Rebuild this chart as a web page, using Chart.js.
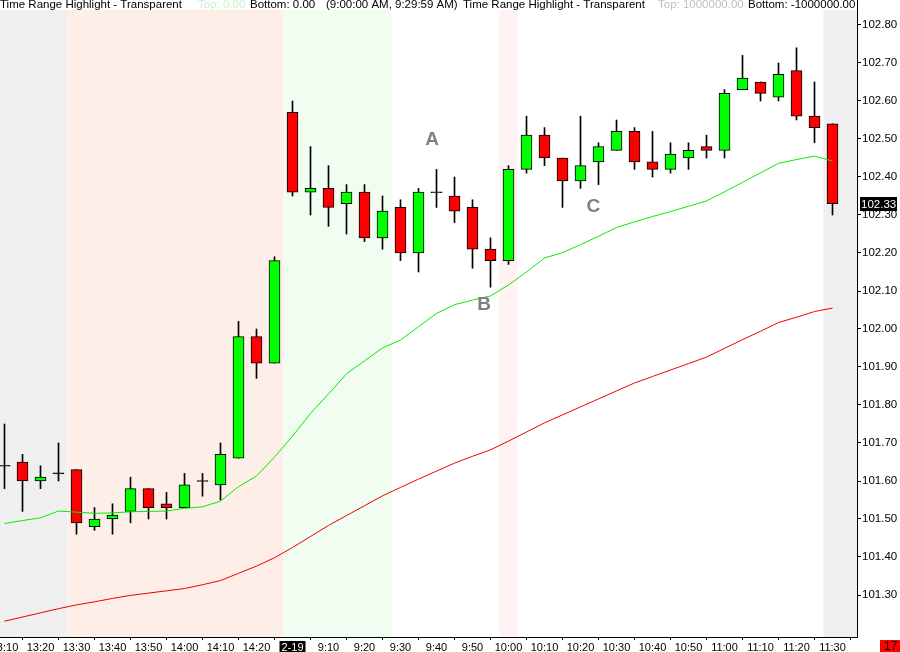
<!DOCTYPE html>
<html>
<head>
<meta charset="utf-8">
<script src="https://cdn.jsdelivr.net/npm/chart.js@4.4.1/dist/chart.umd.min.js"></script>
<style>
html,body{margin:0;padding:0;background:#fff;overflow:hidden}
canvas{display:block}
</style>
</head>
<body>
<canvas id="c" width="900" height="652"></canvas>
<script>
/* ---- data: 5 min bars, prev day 13:10 -> 2-19 11:30 ---- */
const times = ['13:10','13:15','13:20','13:25','13:30','13:35','13:40','13:45','13:50','13:55',
  '14:00','14:05','14:10','14:15','14:20','14:25','2-19','9:05','9:10','9:15',
  '9:20','9:25','9:30','9:35','9:40','9:45','9:50','9:55','10:00','10:05',
  '10:10','10:15','10:20','10:25','10:30','10:35','10:40','10:45','10:50','10:55',
  '11:00','11:05','11:10','11:15','11:20','11:25','11:30'];
const opens  = [101.64,101.65,101.60,101.62,101.63,101.48,101.50,101.52,101.58,101.54,
  101.53,101.60,101.59,101.66,101.98,101.91,102.57,102.36,102.37,102.33,
  102.36,102.24,102.32,102.20,102.36,102.35,102.32,102.21,102.18,102.42,
  102.51,102.45,102.39,102.44,102.47,102.52,102.44,102.42,102.45,102.48,
  102.47,102.63,102.65,102.61,102.68,102.56,102.54];
const highs  = [101.75,101.67,101.64,101.70,101.63,101.53,101.54,101.61,101.58,101.57,
  101.62,101.62,101.70,102.02,102.00,102.19,102.60,102.48,102.43,102.38,
  102.38,102.35,102.34,102.37,102.42,102.40,102.34,102.24,102.43,102.56,
  102.53,102.45,102.56,102.49,102.55,102.53,102.52,102.49,102.49,102.51,
  102.63,102.72,102.65,102.70,102.74,102.65,102.54];
const lows   = [101.58,101.52,101.58,101.60,101.46,101.47,101.46,101.49,101.50,101.50,
  101.53,101.56,101.55,101.66,101.87,101.91,102.35,102.30,102.27,102.25,
  102.23,102.21,102.18,102.15,102.32,102.28,102.16,102.11,102.17,102.41,
  102.43,102.32,102.37,102.38,102.47,102.42,102.40,102.41,102.42,102.45,
  102.45,102.63,102.60,102.60,102.55,102.49,102.30];
const closes = [101.64,101.60,101.61,101.62,101.49,101.50,101.51,101.58,101.53,101.53,
  101.59,101.60,101.67,101.98,101.91,102.18,102.36,102.37,102.32,102.36,
  102.24,102.31,102.20,102.36,102.36,102.31,102.21,102.18,102.42,102.51,
  102.45,102.39,102.43,102.48,102.52,102.44,102.42,102.46,102.47,102.47,
  102.62,102.66,102.62,102.67,102.56,102.53,102.33];
const fastMA = [101.488,101.496,101.503,101.521,101.518,101.515,101.516,101.519,101.520,101.521,
  101.528,101.532,101.547,101.585,101.613,101.663,101.718,101.778,101.829,101.882,
  101.916,101.950,101.971,102.006,102.041,102.064,102.076,102.087,102.116,102.150,
  102.187,102.201,102.222,102.244,102.267,102.282,102.296,102.309,102.323,102.337,
  102.361,102.386,102.411,102.436,102.446,102.455,102.442];
const slowMA = [101.231,101.242,101.253,101.264,101.274,101.282,101.291,101.299,101.305,101.311,
  101.317,101.327,101.338,101.357,101.376,101.398,101.425,101.454,101.483,101.509,
  101.535,101.561,101.583,101.605,101.626,101.647,101.665,101.682,101.705,101.729,
  101.753,101.774,101.795,101.816,101.837,101.858,101.875,101.892,101.909,101.926,
  101.949,101.972,101.994,102.017,102.031,102.046,102.055];
const yTicks = [101.30,101.40,101.50,101.60,101.70,101.80,101.90,102.00,102.10,102.20,102.30,102.40,102.50,102.60,102.70,102.80];
// time range highlights, bar index ranges (null end = open to the right)
const rangeStart = [0, 4, 16, 28, 46];
const rangeEnd   = [3, 15, 21, 28, null];
const noteText = ['A','B','C'];
const noteBar  = [23.76, 26.64, 32.72];
const notePrice = [102.50, 102.066, 102.324];

/* ---- styles ---- */
const rangeColors = ['#efefef','#fdefe8','#f2fdf2','#fff2f2','#efefef'];
const UP = '#00ff00', DOWN = '#ff0000';
const FONT = 'Liberation Sans, Arial, sans-serif';
const BAR_PX = 18, PLOT_W = 857, HEADER_H = 10;
const xMin = -0.25, xMax = xMin + PLOT_W / BAR_PX;
const yMax = 102.80 + 25/380, yMin = 102.80 - 612/380;

const idx = times.map((t,i)=>i);
const bodyCol = idx.map(i => closes[i]>opens[i] ? UP : closes[i]<opens[i] ? DOWN : '#000');
const bodyData = idx.map(i => opens[i]===closes[i]
  ? {x:i, y:[opens[i]-0.0013, opens[i]+0.0013]}
  : {x:i, y:[opens[i], closes[i]]});

const header = [
  {t:'Time Range Highlight - Transparent', x:0, c:'#000'},
  {t:'Top: 0.00', x:198, c:'#c8f2c8'},
  {t:'Bottom: 0.00', x:250, c:'#000'},
  {t:'(9:00:00 AM, 9:29:59 AM)', x:326, c:'#000'},
  {t:'Time Range Highlight - Transparent', x:463, c:'#000'},
  {t:'Top: 1000000.00', x:658, c:'#c0c0c0'},
  {t:'Bottom: -1000000.00', x:748, c:'#000'}
];

const decor = {
  id:'decor',
  beforeDatasetsDraw(chart){
    const {ctx, chartArea:a, scales:{x}} = chart;
    ctx.save();
    rangeStart.forEach((s,k)=>{
      let x1 = Math.max(a.left, x.getPixelForValue(s-0.5));
      let x2 = rangeEnd[k]===null ? a.right : Math.min(a.right, x.getPixelForValue(rangeEnd[k]+0.5));
      ctx.fillStyle = rangeColors[k];
      ctx.fillRect(x1, a.top+HEADER_H, x2-x1, a.bottom-a.top-HEADER_H);
    });
    ctx.restore();
  },
  afterDraw(chart){
    const {ctx, scales:{x,y}} = chart;
    ctx.save();
    // annotations
    ctx.font = 'bold 19px '+FONT; ctx.fillStyle = '#808080';
    ctx.textAlign = 'center'; ctx.textBaseline = 'middle';
    noteText.forEach((t,k)=>ctx.fillText(t, x.getPixelForValue(noteBar[k]), y.getPixelForValue(notePrice[k])+1));
    // header
    ctx.font = '11.5px '+FONT; ctx.textAlign = 'left'; ctx.textBaseline = 'alphabetic';
    header.forEach(h=>{ ctx.fillStyle = h.c; ctx.fillText(h.t, h.x, 8); });
    // last price label
    const last = closes[closes.length-1];
    const py = Math.round(y.getPixelForValue(last));
    ctx.fillStyle = '#000'; ctx.fillRect(860, py-7, 37, 14);
    ctx.fillStyle = '#fff'; ctx.textBaseline = 'middle';
    ctx.fillText(last.toFixed(2), 861, py+0.5);
    // bar counter
    ctx.fillStyle = '#ff0000'; ctx.fillRect(880, 640, 20, 12);
    ctx.fillStyle = '#000'; ctx.font = '12px '+FONT; ctx.fillText('17', 884, 647);
    ctx.restore();
  }
};

new Chart(document.getElementById('c'), {
  type:'bar',
  data:{ datasets:[
    {type:'line', data:idx.map(i=>({x:i, y:fastMA[i]})), borderColor:'#00ee00', borderWidth:1, pointRadius:0, tension:0, order:0},
    {type:'line', data:idx.map(i=>({x:i, y:slowMA[i]})), borderColor:'#ee0000', borderWidth:1, pointRadius:0, tension:0, order:0},
    {data:bodyData, backgroundColor:bodyCol, borderColor:'#000', borderWidth:1, borderSkipped:false, barThickness:11, grouped:false, order:1},
    {data:idx.map(i=>({x:i, y:[lows[i], highs[i]]})), backgroundColor:'#000', borderWidth:0, barThickness:1, grouped:false, order:2}
  ]},
  options:{
    responsive:false, animation:false, devicePixelRatio:1,
    layout:{padding:0},
    plugins:{legend:{display:false}, tooltip:{enabled:false}},
    scales:{
      x:{ type:'linear', min:xMin, max:xMax, offset:false,
        grid:{drawOnChartArea:false, drawTicks:true, tickLength:3, color:'#000'},
        border:{display:true, color:'#000'},
        ticks:{ autoSkip:false, maxRotation:0, minRotation:0, padding:1,
          font:{family:FONT, size:11},
          color: c => (c.tick && c.tick.value===16) ? '#fff' : '#000',
          showLabelBackdrop: c => !!(c.tick && c.tick.value===16),
          backdropColor:'#000', backdropPadding:{top:0,bottom:2,left:2,right:2},
          callback: v => times[v] },
        afterBuildTicks: s => { s.ticks = idx.filter(i=>i%2===0).map(v=>({value:v})); },
        afterFit: s => { s.height = 15; s.paddingLeft = 0; s.paddingRight = 0; }
      },
      y:{ position:'right', min:yMin, max:yMax,
        grid:{drawOnChartArea:false, drawTicks:true, tickLength:4, color:'#000'},
        border:{display:true, color:'#000'},
        ticks:{ padding:1, color:'#000', font:{family:FONT, size:11.5}, callback: v => v.toFixed(2) },
        afterBuildTicks: s => { s.ticks = yTicks.map(v=>({value:v})); },
        afterFit: s => { s.width = 900-PLOT_W; s.paddingTop = 0; s.paddingBottom = 0; }
      }
    }
  },
  plugins:[decor]
});
</script>
</body>
</html>
